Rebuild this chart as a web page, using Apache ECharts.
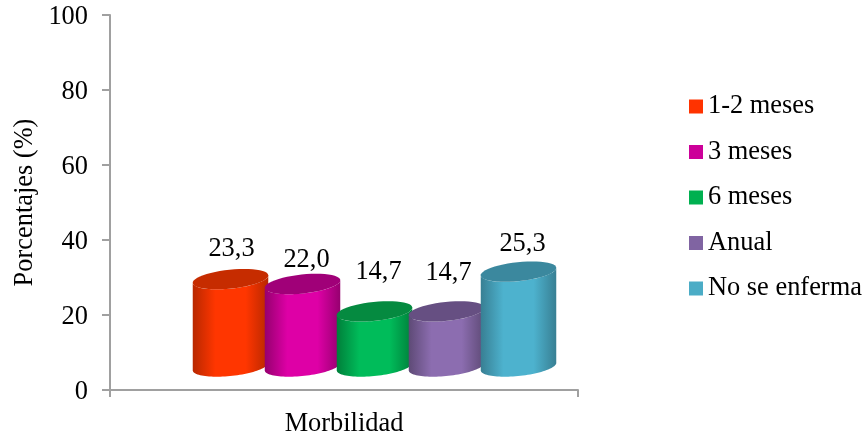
<!DOCTYPE html>
<html><head><meta charset="utf-8">
<style>html,body{margin:0;padding:0;background:#fff}#c{width:867px;height:437px}</style>
<script src="https://cdn.jsdelivr.net/npm/echarts@6/dist/echarts.min.js"></script>
</head><body><div id="c"></div>
<script>
var categories = ['Morbilidad'];
var seriesNames = ['1-2 meses', '3 meses', '6 meses', 'Anual', 'No se enferma'];
var values = [23.3, 22.0, 14.7, 14.7, 25.3];
var valueLabels = ['23,3', '22,0', '14,7', '14,7', '25,3'];
var yTicks = [0, 20, 40, 60, 80, 100];
var colors = ['#FF3300', '#CC0099', '#00B050', '#8064A2', '#4BACC6'];
var brightColors = ['#FF3600', '#DE00A6', '#00BC5A', '#8C6DB0', '#4DB2CE'];
var edgeColors = ['#B82800', '#96006F', '#007F3A', '#5E4A76', '#387F93'];
var topColors = ['#C62C00', '#A00078', '#058A40', '#664F82', '#3B889E'];
var labelDx = [1, 4, 4, 2, 4];
var labelRise = [30, 24, 39, 38, 28];
var SPACING = 72, DEPTH_X = 30.5, DEPTH_Y = 23.5, RX = 38, RY = 9.5, TILT = -6 * Math.PI / 180;

function ellipsePts(cx, cy, from, to) {
  var pts = [];
  for (var k = 0; k <= 48; k++) {
    var t = from + (to - from) * k / 48;
    var ex = RX * Math.cos(t), ey = RY * Math.sin(t);
    pts.push([cx + ex * Math.cos(TILT) - ey * Math.sin(TILT), cy + ex * Math.sin(TILT) + ey * Math.cos(TILT)]);
  }
  return pts;
}
function makeRender(i) {
  return function (params, api) {
    var base = api.coord([api.value(0), 0]);
    var top = api.coord([api.value(0), api.value(1)]);
    var cx = base[0] + (i - 2) * SPACING + DEPTH_X;
    var by = base[1] - DEPTH_Y, ty = top[1] - DEPTH_Y;
    var t0 = Math.atan2(RY * Math.sin(TILT), RX * Math.cos(TILT));
    var lower = ellipsePts(cx, ty, t0, t0 + Math.PI);
    var bottom = ellipsePts(cx, by, t0 + Math.PI, t0);
    return {
      type: 'group',
      children: [
        { type: 'polygon', shape: { points: lower.concat(bottom) },
          style: { fill: new echarts.graphic.LinearGradient(0, 0, 1, 0, [
            { offset: 0, color: edgeColors[i] },
            { offset: 0.3, color: brightColors[i] },
            { offset: 0.7, color: brightColors[i] },
            { offset: 1, color: edgeColors[i] }
          ]) } },
        { type: 'polygon', shape: { points: ellipsePts(cx, ty, 0, 2 * Math.PI) },
          style: { fill: topColors[i] } },
        { type: 'text', style: {
            text: valueLabels[i], x: cx + labelDx[i], y: ty - labelRise[i],
            align: 'center', verticalAlign: 'middle',
            font: '26.4px "Liberation Serif"', fill: '#000' } }
      ]
    };
  };
}
var chart = echarts.init(document.getElementById('c'), null, { renderer: 'canvas' });
var font = { fontFamily: 'Liberation Serif', fontSize: 26.4, color: '#000' };
chart.setOption({
  animation: false,
  backgroundColor: '#fff',
  grid: { left: 110, right: 289, top: 15, bottom: 47, containLabel: false },
  legend: {
    orient: 'vertical', left: 689, top: 93, padding: 0, itemWidth: 14, itemHeight: 14, itemGap: 18.5,
    icon: 'rect', data: seriesNames, selectedMode: false,
    textStyle: Object.assign({ lineHeight: 27 }, font)
  },
  xAxis: {
    type: 'category', data: categories,
    axisLine: { lineStyle: { color: '#A0A0A0', width: 2 } },
    axisTick: { show: true, length: 7, lineStyle: { color: '#A0A0A0', width: 2 } },
    axisLabel: Object.assign({ margin: 21 }, font)
  },
  yAxis: {
    type: 'value', min: yTicks[0], max: yTicks[yTicks.length - 1], interval: yTicks[1] - yTicks[0],
    name: 'Porcentajes (%)', nameLocation: 'middle', nameGap: 72, nameRotate: 90, nameMoveOverlap: false,
    nameTextStyle: font,
    axisLine: { show: true, lineStyle: { color: '#A0A0A0', width: 2 } },
    axisTick: { show: true, length: 8, lineStyle: { color: '#A0A0A0', width: 2 } },
    splitLine: { show: false },
    axisLabel: Object.assign({ margin: 22, verticalAlign: 'top', lineHeight: 4 }, font)
  },
  series: seriesNames.map(function (name, i) {
    return {
      type: 'custom', name: name, renderItem: makeRender(i),
      encode: { x: 0, y: 1 }, itemStyle: { color: colors[i] },
      data: [[0, values[i]]], clip: false
    };
  })
});
</script></body></html>
